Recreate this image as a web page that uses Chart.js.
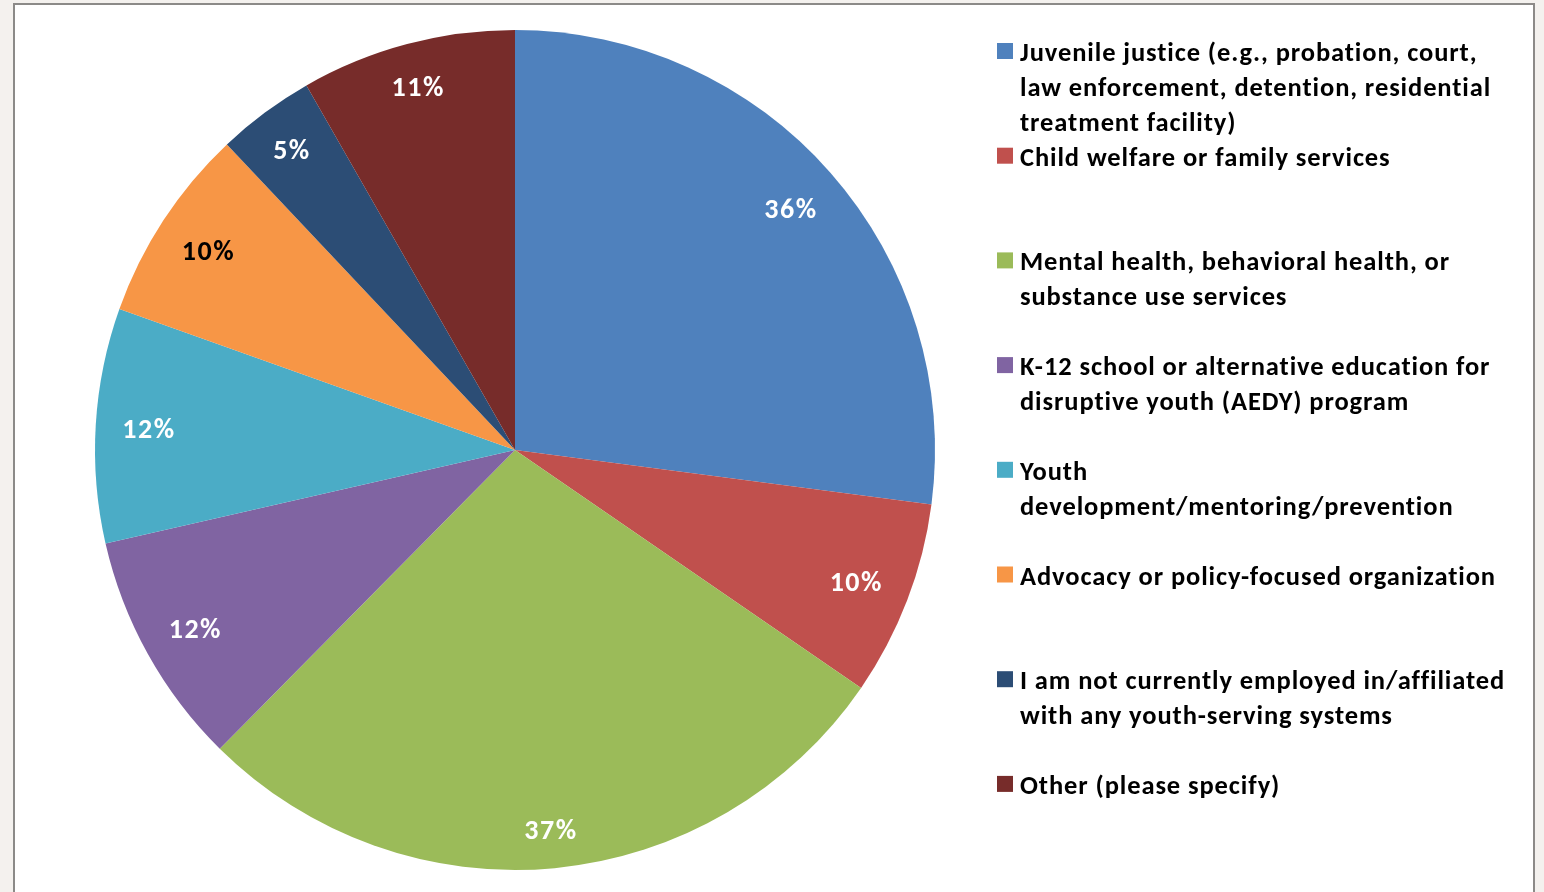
<!DOCTYPE html>
<html>
<head>
<meta charset="utf-8">
<script src="https://cdn.jsdelivr.net/npm/chart.js@4"></script>
<style>
  html, body { margin: 0; padding: 0; background: #f4f1ee; width: 1544px; height: 892px; overflow: hidden; }
  #frame { position: absolute; left: 13px; top: 3px; width: 1518px; height: 900px; background: #fff; border: 2px solid #8c8a88; }
  #pie { position: absolute; left: 0; top: 0; }
</style>
</head>
<body>
<div id="frame"></div>
<canvas id="pie" width="1544" height="892"></canvas>
<script>
// Survey answers: which youth-serving system respondents work in (multi-select, so shares add past 100)
const categories = [
    ['Juvenile justice (e.g., probation, court,', 'law enforcement, detention, residential', 'treatment facility)'],
    ['Child welfare or family services'],
    ['Mental health, behavioral health, or', 'substance use services'],
    ['K-12 school or alternative education for', 'disruptive youth (AEDY) program'],
    ['Youth', 'development/mentoring/prevention'],
    ['Advocacy or policy-focused organization'],
    ['I am not currently employed in/affiliated', 'with any youth-serving systems'],
    ['Other (please specify)']
];
const percents = [36, 10, 37, 12, 12, 10, 5, 11];
const sliceColors = ['#4f81bd', '#c0504d', '#9bbb59', '#8064a2', '#4bacc6', '#f79646', '#2c4d75', '#772c2a'];
const labelColors = ['#fff', '#fff', '#fff', '#fff', '#fff', '#000', '#fff', '#fff'];

const FAMILY = "Carlito, Lato, 'Open Sans', sans-serif";

// percentage text pushed out along the bisector until its far corner sits just inside the rim
const sliceLabels = {
    id: 'sliceLabels',
    afterDatasetsDraw(chart) {
        const ctx = chart.ctx;
        const arcs = chart.getDatasetMeta(0).data;
        ctx.save();
        ctx.font = 'bold 28px ' + FAMILY;
        ctx.letterSpacing = '1.5px';
        ctx.textAlign = 'center';
        ctx.textBaseline = 'alphabetic';
        const capH = 20;
        arcs.forEach((arc, i) => {
            const p = arc.getProps(['x', 'y', 'startAngle', 'endAngle', 'outerRadius']);
            const text = percents[i] + '%';
            const w = ctx.measureText(text).width;
            const mid = (p.startAngle + p.endAngle) / 2;
            const c = Math.cos(mid), s = Math.sin(mid);
            const reach = p.outerRadius * 0.938;
            const b = Math.abs(c) * w + Math.abs(s) * capH;
            const a = (w * w + capH * capH) / 4;
            const r = (-b + Math.sqrt(b * b - 4 * (a - reach * reach))) / 2;
            ctx.fillStyle = labelColors[i];
            ctx.fillText(text, p.x + c * r, p.y + s * r + capH / 2);
        });
        ctx.restore();
    }
};

// legend on the right: one fixed slot per entry, text top aligned
const sideLegend = {
    id: 'sideLegend',
    afterDraw(chart) {
        const ctx = chart.ctx;
        const left = 997, textX = 1020, base = 61, slot = 104.7, lineH = 35, box = 16;
        ctx.save();
        ctx.font = 'bold 26.5px ' + FAMILY;
        ctx.letterSpacing = '0.9px';
        ctx.textBaseline = 'alphabetic';
        ctx.textAlign = 'left';
        categories.forEach((lines, i) => {
            const y = base + i * slot;
            ctx.fillStyle = sliceColors[i];
            ctx.fillRect(left, y - 18, box, box);
            ctx.fillStyle = '#000';
            lines.forEach((line, j) => ctx.fillText(line, textX, y + j * lineH));
        });
        ctx.restore();
    }
};

new Chart(document.getElementById('pie'), {
    type: 'pie',
    data: {
        labels: categories,
        datasets: [{
            data: percents,
            backgroundColor: sliceColors,
            borderWidth: 0
        }]
    },
    options: {
        responsive: false,
        animation: false,
        layout: { padding: { left: 95, top: 30, right: 609, bottom: 22 } },
        plugins: {
            legend: { display: false },
            tooltip: { enabled: false }
        }
    },
    plugins: [sliceLabels, sideLegend]
});
</script>
</body>
</html>
